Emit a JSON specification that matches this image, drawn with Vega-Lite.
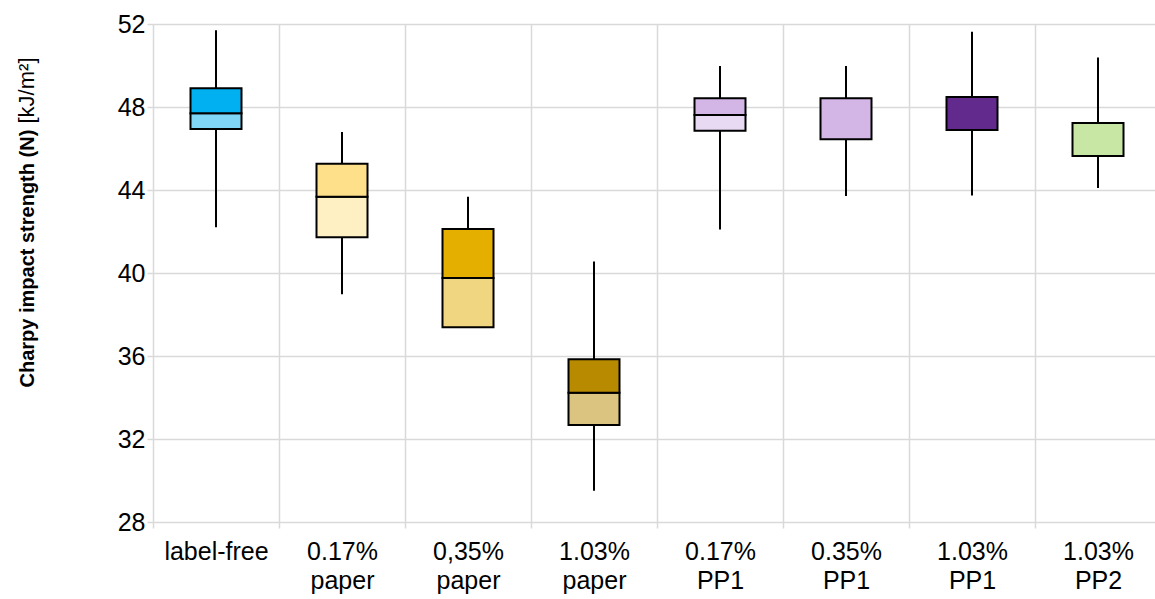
{
  "$schema": "https://vega.github.io/schema/vega-lite/v6.json",
  "width": 1008,
  "height": 498,
  "autosize": {"type": "none"},
  "padding": {"left": 153, "top": 24, "right": 0, "bottom": 77},
  "config": {"view": {"stroke": null}, "font": "Liberation Sans"},
  "datasets": {
    "whiskers": [
      {"group": "label-free", "min": 42.2, "max": 51.7},
      {"group": "0.17% paper", "min": 38.97, "max": 46.8},
      {"group": "0,35% paper", "min": 37.38, "max": 43.68},
      {"group": "1.03% paper", "min": 29.51, "max": 40.55},
      {"group": "0.17% PP1", "min": 42.1, "max": 49.98},
      {"group": "0.35% PP1", "min": 43.71, "max": 49.98},
      {"group": "1.03% PP1", "min": 43.74, "max": 51.63},
      {"group": "1.03% PP2", "min": 44.1, "max": 50.39}
    ],
    "boxes": [
      {"group": "label-free", "segment": "label-free lower", "lo": 46.94, "hi": 47.7},
      {"group": "label-free", "segment": "label-free upper", "lo": 47.7, "hi": 48.9},
      {"group": "0.17% paper", "segment": "0.17% paper lower", "lo": 41.72, "hi": 43.68},
      {"group": "0.17% paper", "segment": "0.17% paper upper", "lo": 43.68, "hi": 45.27},
      {"group": "0,35% paper", "segment": "0,35% paper lower", "lo": 37.38, "hi": 39.76},
      {"group": "0,35% paper", "segment": "0,35% paper upper", "lo": 39.76, "hi": 42.12},
      {"group": "1.03% paper", "segment": "1.03% paper lower", "lo": 32.67, "hi": 34.23},
      {"group": "1.03% paper", "segment": "1.03% paper upper", "lo": 34.23, "hi": 35.84},
      {"group": "0.17% PP1", "segment": "0.17% PP1 lower", "lo": 46.86, "hi": 47.61},
      {"group": "0.17% PP1", "segment": "0.17% PP1 upper", "lo": 47.61, "hi": 48.42},
      {"group": "0.35% PP1", "segment": "0.35% PP1 box", "lo": 46.44, "hi": 48.42},
      {"group": "1.03% PP1", "segment": "1.03% PP1 box", "lo": 46.89, "hi": 48.48},
      {"group": "1.03% PP2", "segment": "1.03% PP2 box", "lo": 45.64, "hi": 47.23}
    ]
  },
  "layer": [
    {
      "data": {"name": "whiskers"},
      "mark": {"type": "rule", "stroke": "#000000", "strokeWidth": 2},
      "encoding": {
        "x": {
          "field": "group", "type": "nominal",
          "sort": ["label-free", "0.17% paper", "0,35% paper", "1.03% paper", "0.17% PP1", "0.35% PP1", "1.03% PP1", "1.03% PP2"],
          "scale": {"paddingInner": 0, "paddingOuter": 0},
          "axis": {
            "title": null, "labelAngle": 0, "labelExpr": "split(datum.label, ' ')",
            "labelFontSize": 25, "labelColor": "#000000", "labelPadding": 11, "labelLineHeight": 29, "labelBaseline": "top",
            "tickBand": "extent", "grid": true, "gridColor": "#D9D9D9", "gridWidth": 1.5,
            "ticks": true, "tickColor": "#D9D9D9", "tickSize": 6, "tickWidth": 1.5, "domain": false
          }
        },
        "y": {
          "field": "min", "type": "quantitative",
          "scale": {"domain": [28, 52], "nice": false, "zero": false},
          "axis": {
            "values": [28, 32, 36, 40, 44, 48, 52],
            "grid": true, "gridColor": "#D9D9D9", "gridWidth": 1.5,
            "ticks": true, "tickColor": "#D9D9D9", "tickSize": 6, "tickWidth": 1.5, "domain": false,
            "labelFontSize": 25, "labelColor": "#000000", "labelPadding": 2,
            "title": "Charpy impact strength (N)", "titleFontSize": 20, "titleFontWeight": "bold", "titleColor": "#000000",
            "titleAngle": 270, "titleAlign": "left", "titleBaseline": "alphabetic", "titleX": -120, "titleY": 363
          }
        },
        "y2": {"field": "max"}
      }
    },
    {
      "data": {"name": "boxes"},
      "mark": {"type": "bar", "size": 51, "stroke": "#000000", "strokeWidth": 2},
      "encoding": {
        "x": {
          "field": "group", "type": "nominal",
          "sort": ["label-free", "0.17% paper", "0,35% paper", "1.03% paper", "0.17% PP1", "0.35% PP1", "1.03% PP1", "1.03% PP2"]
        },
        "y": {
          "field": "lo", "type": "quantitative",
          "axis": {
            "orient": "left", "labels": false, "ticks": false, "domain": false, "grid": false,
            "title": "[kJ/m²]", "titleFontSize": 22, "titleFontWeight": "normal", "titleColor": "#000000",
            "titleAngle": 270, "titleAlign": "left", "titleBaseline": "alphabetic", "titleX": -120, "titleY": 99
          }
        },
        "y2": {"field": "hi"},
        "fill": {
          "field": "segment", "type": "nominal", "legend": null,
          "scale": {
            "domain": ["label-free lower", "label-free upper", "0.17% paper lower", "0.17% paper upper", "0,35% paper lower", "0,35% paper upper", "1.03% paper lower", "1.03% paper upper", "0.17% PP1 lower", "0.17% PP1 upper", "0.35% PP1 box", "1.03% PP1 box", "1.03% PP2 box"],
            "range": ["#7FD6F7", "#00B0F0", "#FFF0C4", "#FFE08A", "#F0D680", "#E5AF00", "#DBC47F", "#B78A00", "#E9DAF3", "#D3B5E6", "#D3B5E6", "#622A8C", "#C9E7A4"]
          }
        }
      }
    }
  ],
  "resolve": {"axis": {"y": "independent"}}
}
